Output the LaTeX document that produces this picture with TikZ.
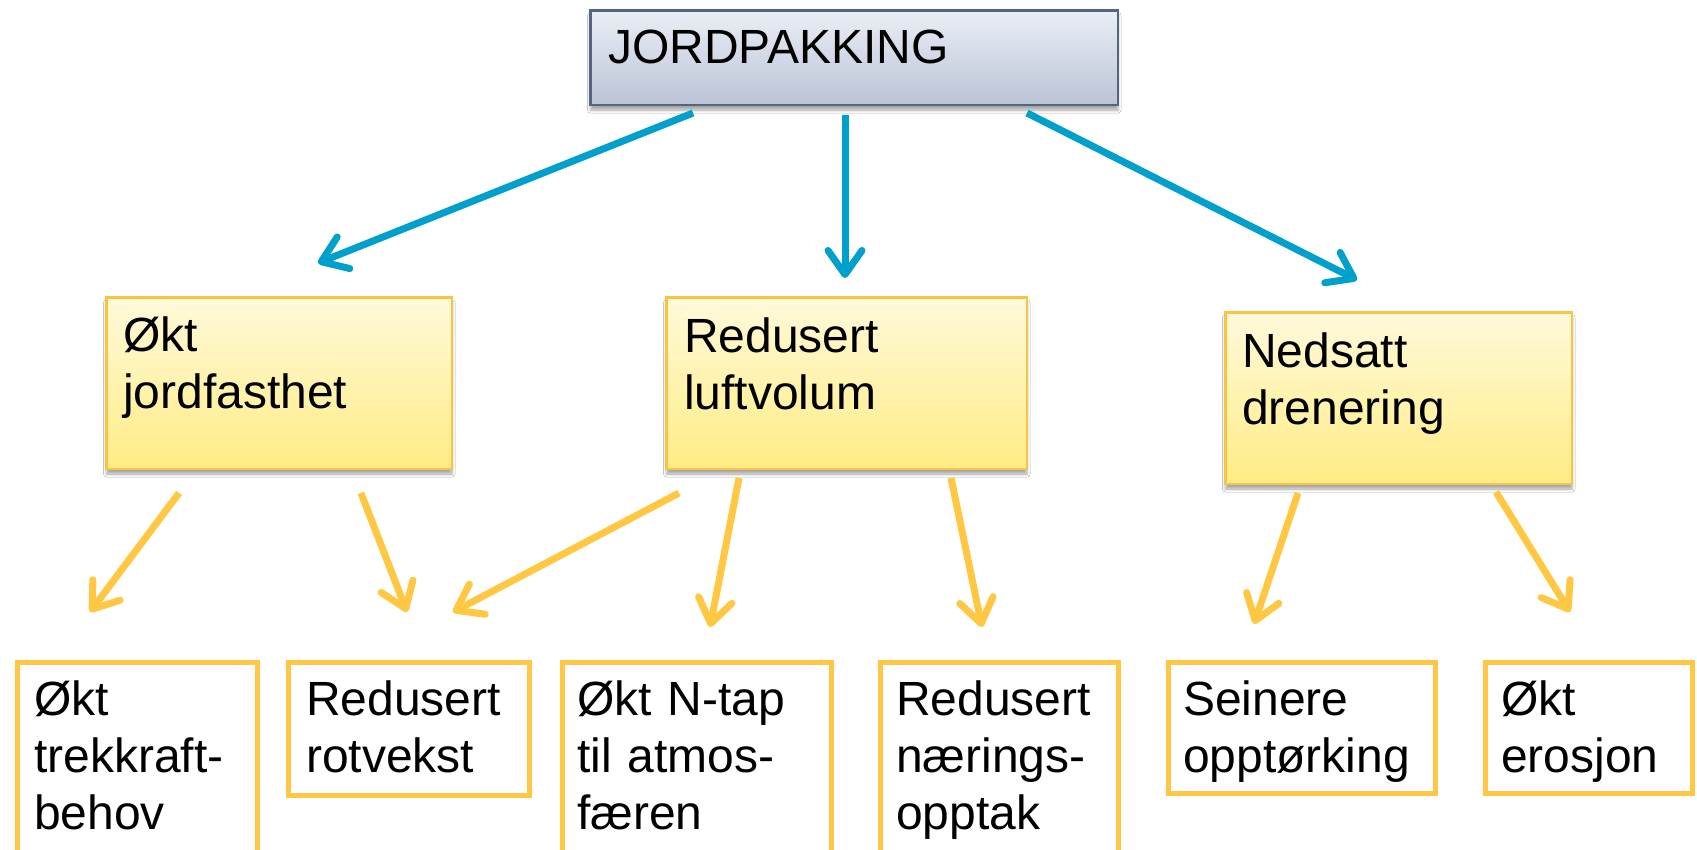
\documentclass[tikz,border=0pt]{standalone}
\usepackage{fontspec}
\setmainfont{Liberation Sans}
\usetikzlibrary{arrows.meta,shadows.blur}
\definecolor{topA}{HTML}{EAEEF5}
\definecolor{topB}{HTML}{BAC4D7}
\definecolor{topedge}{HTML}{56657E}
\definecolor{midA}{HTML}{FFF9DA}
\definecolor{midB}{HTML}{FFEC84}
\definecolor{midedge}{HTML}{F7C443}
\definecolor{lowedge}{HTML}{FFC745}
\definecolor{arrowblue}{HTML}{00A0CC}
\definecolor{arrowyellow}{HTML}{FFC742}
\begin{document}
\begin{tikzpicture}[x=1pt,y=-1pt,
  topbox/.style={draw=topedge, line width=2.5pt, top color=topA, bottom color=topB,
    anchor=north west, inner sep=0pt,
    blur shadow={shadow xshift=0pt, shadow yshift=-5pt, shadow blur radius=3pt, shadow opacity=35}},
  midbox/.style={draw=midedge, line width=2.5pt, top color=midA, bottom color=midB,
    anchor=north west, inner sep=0pt,
    blur shadow={shadow xshift=0pt, shadow yshift=-5pt, shadow blur radius=3pt, shadow opacity=35}},
  lowbox/.style={draw=lowedge, line width=5pt, fill=white, anchor=north west, inner sep=0pt},
  txt/.style={anchor=base west, inner sep=0pt, align=left, text width=260pt,
    font=\fontsize{48}{57}\selectfont},
  bluearrow/.style={draw=arrowblue, line width=7pt,
    -{Straight Barb[length=24pt,width=34pt,round]}},
  yellowarrow/.style={draw=arrowyellow, line width=7pt,
    -{Straight Barb[length=24pt,width=34pt,round]}}
]
\clip (0,0) rectangle (1697,849);
\fill[white] (0,0) rectangle (1697,849);

% top box
\node[topbox, minimum width=527.5pt, minimum height=94.5pt] (top) at (589.25,9.25) {};
\node[txt, text width=400pt] (ttop) at (608,63) {JORDPAKKING};

% level 2
\node[midbox, minimum width=345.5pt, minimum height=171.5pt] (m1) at (105.25,296.25) {};
\node[midbox, minimum width=360.5pt, minimum height=171.5pt] (m2) at (665.25,296.25) {};
\node[midbox, minimum width=346.5pt, minimum height=171.5pt] (m3) at (1224.25,311.25) {};
\node[txt] (tm1) at (123,351) {Økt\\jordfasthet};
\node[txt] (tm2) at (684,352) {Redusert\\luftvolum};
\node[txt] (tm3) at (1242,367) {Nedsatt\\drenering};

% level 3
\node[lowbox, minimum width=240pt, minimum height=300pt] (la) at (14.5,659.5) {};
\node[lowbox, minimum width=241pt, minimum height=133pt] (lb) at (285.5,659.5) {};
\node[lowbox, minimum width=269pt, minimum height=300pt] (lc) at (559.5,659.5) {};
\node[lowbox, minimum width=238pt, minimum height=300pt] (ld) at (877.5,659.5) {};
\node[lowbox, minimum width=267pt, minimum height=131pt] (le) at (1165.5,659.5) {};
\node[lowbox, minimum width=207pt, minimum height=131pt] (lf) at (1482.5,659.5) {};
\node[txt] (tla) at (34,715) {Økt\\trekkraft-\\behov};
\node[txt] (tlb) at (306,715) {Redusert\\rotvekst};
\node[txt] (tlc) at (577,715) {Økt N-tap\\til atmos-\\færen};
\node[txt] (tld) at (896,715) {Redusert\\nærings-\\opptak};
\node[txt] (tle) at (1183,715) {Seinere\\opptørking};
\node[txt] (tlf) at (1501,715) {Økt\\erosjon};

% arrow end points
\coordinate (bA1) at (693,113);  \coordinate (bA2) at (318,263);
\coordinate (bB1) at (845,115);  \coordinate (bB2) at (845,278);
\coordinate (bC1) at (1027,113); \coordinate (bC2) at (1357,280);
\coordinate (y1a) at (179,493);  \coordinate (y1b) at (90,612);
\coordinate (y2a) at (361,493);  \coordinate (y2b) at (407,612);
\coordinate (y3a) at (679,493);  \coordinate (y3b) at (453,612);
\coordinate (y4a) at (739,478);  \coordinate (y4b) at (710,627);
\coordinate (y5a) at (951,478);  \coordinate (y5b) at (982,627);
\coordinate (y6a) at (1298,493); \coordinate (y6b) at (1254,624);
\coordinate (y7a) at (1496,492); \coordinate (y7b) at (1570,612);

\draw[bluearrow] (bA1) -- (bA2);
\draw[bluearrow] (bB1) -- (bB2);
\draw[bluearrow] (bC1) -- (bC2);
\draw[yellowarrow] (y1a) -- (y1b);
\draw[yellowarrow] (y2a) -- (y2b);
\draw[yellowarrow] (y3a) -- (y3b);
\draw[yellowarrow] (y4a) -- (y4b);
\draw[yellowarrow] (y5a) -- (y5b);
\draw[yellowarrow] (y6a) -- (y6b);
\draw[yellowarrow] (y7a) -- (y7b);
\end{tikzpicture}
\end{document}
